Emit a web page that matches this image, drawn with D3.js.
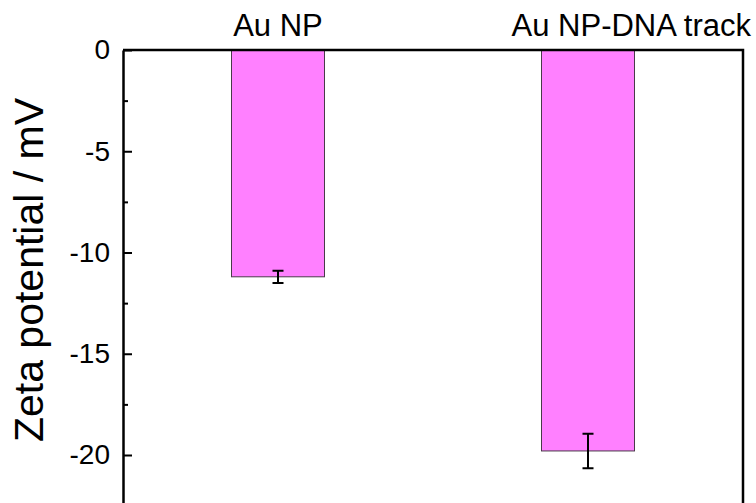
<!DOCTYPE html>
<html>
<head>
<meta charset="utf-8">
<script src="https://cdn.jsdelivr.net/npm/d3@7"></script>
<style>
  html, body { margin: 0; padding: 0; background: #fff; }
  svg { display: block; font-family: "Liberation Sans", Arial, sans-serif; }
</style>
</head>
<body>
<svg id="chart" width="756" height="503"></svg>
<script>
// Zeta potential of bare and DNA-track-modified gold nanoparticles
const categories = ["Au NP", "Au NP-DNA track"];
const zeta = [-11.2, -19.8];
const zetaErr = [0.3, 0.85];
const majorTicks = [0, -5, -10, -15, -20];
const minorTicks = [-2.5, -7.5, -12.5, -17.5];
const yTitle = "Zeta potential / mV";

const svg = d3.select("#chart");
const plotLeft = 123, plotRight = 743, plotTop = 50;

const x = d3.scaleBand()
  .domain(categories)
  .range([plotLeft, plotRight])
  .paddingInner(0.7)
  .paddingOuter(0.35);

const y = d3.scaleLinear()
  .domain([0, -25])
  .range([plotTop, plotTop + 25 * 20.25]);

// bars hang down from zero
svg.append("g")
  .selectAll("rect")
  .data(categories)
  .join("rect")
  .attr("x", d => x(d))
  .attr("width", x.bandwidth())
  .attr("y", y(0))
  .attr("height", (d, i) => y(zeta[i]) - y(0))
  .attr("fill", "#ff80ff")
  .attr("stroke", "#4a3a4a")
  .attr("stroke-width", 1);

// error bars
const eb = svg.append("g").attr("stroke", "#000").attr("stroke-width", 2).attr("fill", "none");
categories.forEach((c, i) => {
  const cx = x(c) + x.bandwidth() / 2;
  const y1 = y(zeta[i] + zetaErr[i]), y2 = y(zeta[i] - zetaErr[i]);
  const cap = 5.5;
  eb.append("path")
    .attr("d", `M${cx},${y1}V${y2}M${cx - cap},${y1}H${cx + cap}M${cx - cap},${y2}H${cx + cap}`);
});

// frame: top and right edges
svg.append("path")
  .attr("d", `M${plotLeft},${plotTop}H${plotRight}V${y(-25)}`)
  .attr("fill", "none")
  .attr("stroke", "#000")
  .attr("stroke-width", 2.5);

// minor ticks
const minorAxis = svg.append("g")
  .attr("transform", `translate(${plotLeft},0)`)
  .call(d3.axisLeft(y).tickValues(minorTicks).tickSizeInner(-5).tickSizeOuter(0).tickFormat(""));
minorAxis.select(".domain").remove();
minorAxis.selectAll("line").attr("stroke", "#000").attr("stroke-width", 2);

// major ticks with labels
const yAxis = svg.append("g")
  .attr("transform", `translate(${plotLeft},0)`)
  .call(d3.axisLeft(y).tickValues(majorTicks).tickSizeInner(-9).tickSizeOuter(0)
    .tickPadding(13).tickFormat(d3.format("d")));
yAxis.select(".domain").attr("stroke", "#000").attr("stroke-width", 2.5);
yAxis.selectAll("line").attr("stroke", "#000").attr("stroke-width", 2);
yAxis.selectAll("text")
  .attr("fill", "#000")
  .style("font-size", "28px")
  .style("font-family", '"Liberation Sans", Arial, sans-serif')
  .text(d => d === 0 ? "0" : "-" + Math.abs(d));

// category labels above the frame; the last one is right-aligned past the frame edge
const lastCat = categories[categories.length - 1];
svg.append("g")
  .selectAll("text")
  .data(categories)
  .join("text")
  .attr("text-anchor", d => d === lastCat ? "end" : "middle")
  .attr("x", d => d === lastCat ? plotRight + 8 : x(d) + x.bandwidth() / 2)
  .attr("y", 35.5)
  .style("font-size", "31px")
  .attr("fill", "#000")
  .text(d => d);

// y axis title
svg.append("text")
  .attr("transform", "translate(43,270) rotate(-90)")
  .attr("text-anchor", "middle")
  .style("font-size", "41px")
  .attr("fill", "#000")
  .text(yTitle);
</script>
</body>
</html>
